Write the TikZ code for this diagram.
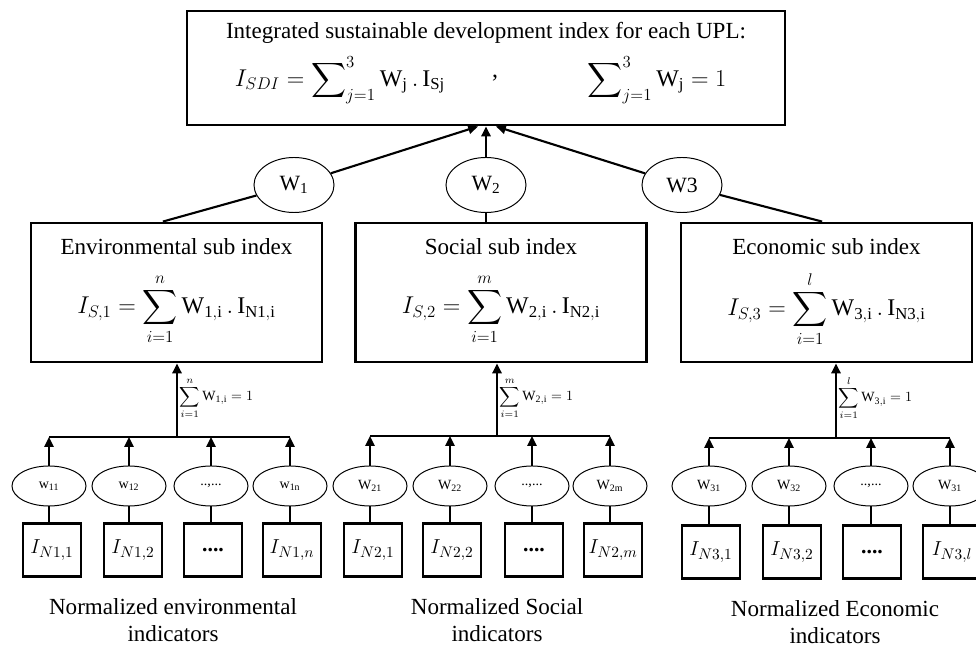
\documentclass[tikz,border=0pt]{standalone}
\usepackage{amsmath}
\usepackage{fontspec}
\setmainfont{Liberation Serif}
\usetikzlibrary{arrows.meta}
\usetikzlibrary{shapes.geometric}

\begin{document}
\begin{tikzpicture}[x=0.025cm,y=-0.025cm,
	bigbox/.style={draw,line width=2pt,minimum width=7.275cm,minimum height=3.475cm,inner sep=0pt},
	wnode/.style={draw,ellipse,line width=0.7pt,minimum width=2cm,minimum height=1.375cm,inner sep=0pt,font=\fontsize{15.5}{18}\selectfont},
	wsmall/.style={draw,ellipse,line width=0.7pt,minimum width=1.85cm,minimum height=1cm,inner sep=0pt,font=\fontsize{10}{11}\selectfont},
	ind/.style={draw,line width=2pt,minimum width=1.45cm,minimum height=1.325cm,inner sep=0pt,font=\fontsize{15.5}{18}\selectfont},
	txt/.style={font=\fontsize{16.4}{19}\selectfont,align=center},
	formula/.style={font=\fontsize{17}{20}\selectfont},
	sumw/.style={font=\fontsize{10}{12}\selectfont,anchor=west,inner sep=1pt},
	link/.style={line width=1.5pt},
	arr/.style={line width=1.5pt,-{Triangle[length=7pt,width=6.5pt]}}]
	\useasboundingbox (0,0) rectangle (976,648);

	% top index
	\node[draw,line width=2pt,minimum width=14.95cm,minimum height=2.85cm,inner sep=0pt] (top) at (486,68) {};
	\node[txt] (toptitle) at (486,33) {Integrated sustainable development index for each UPL:};
	\node[formula] (topsum) at (340,80) {$I_{SDI} = \displaystyle\sum\nolimits_{j=1}^{3}\mathrm{W_j} \,.\, \mathrm{I_{Sj}}$};
	\node[formula] (comma) at (495,78) {,};
	\node[formula] (topone) at (657,80) {$\displaystyle\sum\nolimits_{j=1}^{3}\mathrm{W_j} = 1$};

	% weights of the sub indices
	\node[wnode] (W1) at (294,185) {W\textsubscript{1}};
	\node[wnode] (W2) at (486,185) {W\textsubscript{2}};
	\node[wnode] (W3) at (682,185) {W3};

	% sub indices
	\node[bigbox] (env) at (176.5,292.5) {};
	\node[bigbox] (soc) at (501,292.5) {};
	\node[bigbox] (eco) at (826.5,292.5) {};
	\node[txt] (envt) at (176.5,247) {Environmental sub index};
	\node[txt] (soct) at (501,247) {Social sub index};
	\node[txt] (ecot) at (826.5,247) {Economic sub index};
	\node[formula] (envf) at (176.5,309) {$\displaystyle I_{S,1} = \sum_{i=1}^{n}\mathrm{W_{1,i}} \,.\, \mathrm{I_{N1,i}}$};
	\node[formula] (socf) at (501,309) {$\displaystyle I_{S,2} = \sum_{i=1}^{m}\mathrm{W_{2,i}} \,.\, \mathrm{I_{N2,i}}$};
	\node[formula] (ecof) at (826.5,309) {$\displaystyle I_{S,3} = \sum_{i=1}^{l}\mathrm{W_{3,i}} \,.\, \mathrm{I_{N3,i}}$};

	\draw [link] ([xshift=-0.34cm]env.north) -- (W1);
	\draw [arr] (W1) -- ([xshift=-0.2cm]top.south);
	\draw [link] (W2.south) -- (W2.south |- soc.north);
	\draw [arr] (W2.north) -- (W2.north |- top.south);
	\draw [link] ([xshift=-0.11cm]eco.north) -- (W3);
	\draw [arr] (W3) -- ([xshift=0.25cm]top.south);

	% environmental indicators
	\node[wsmall] (e1) at (49,486) {w\textsubscript{11}};
	\node[wsmall] (e2) at (129,486) {w\textsubscript{12}};
	\node[wsmall] (e3) at (211,486) {..,...};
	\node[wsmall] (e4) at (290,486) {w\textsubscript{1n}};
	\node[ind] (ie1) at (52,550) {$I_{N1,1}$};
	\node[ind] (ie2) at (133,550) {$I_{N1,2}$};
	\node[ind] (ie3) at (213,550) {\textbf{....}};
	\node[ind] (ie4) at (292,550) {$I_{N1,n}$};
	\node[txt] (envcap) at (173,620) {Normalized environmental\\indicators};

	% social indicators
	\node[wsmall] (s1) at (370,486) {W\textsubscript{21}};
	\node[wsmall] (s2) at (450,486) {W\textsubscript{22}};
	\node[wsmall] (s3) at (532,486) {..,...};
	\node[wsmall] (s4) at (610,486) {W\textsubscript{2m}};
	\node[ind] (is1) at (373,550) {$I_{N2,1}$};
	\node[ind] (is2) at (452,550) {$I_{N2,2}$};
	\node[ind] (is3) at (534,550) {\textbf{....}};
	\node[ind] (is4) at (613,550) {$I_{N2,m}$};
	\node[txt] (soccap) at (497,620) {Normalized Social\\indicators};

	% economic indicators
	\node[wsmall] (c1) at (709,486) {W\textsubscript{31}};
	\node[wsmall] (c2) at (789,486) {W\textsubscript{32}};
	\node[wsmall] (c3) at (871,486) {..,...};
	\node[wsmall] (c4) at (950,486) {W\textsubscript{31}};
	\node[ind] (ic1) at (711,552) {$I_{N3,1}$};
	\node[ind] (ic2) at (792,552) {$I_{N3,2}$};
	\node[ind] (ic3) at (872,552) {\textbf{....}};
	\node[ind] (ic4) at (952,552) {$I_{N3,l}$};
	\node[txt] (ecocap) at (835,622) {Normalized Economic\\indicators};

	% bars collecting the indicator weights
	\coordinate (be) at (177,437);
	\coordinate (bs) at (497,436);
	\coordinate (bc) at (836,438);
	\draw [link] (e1 |- be) -- (e4 |- be);
	\draw [link] (s1 |- bs) -- (s4 |- bs);
	\draw [link] (c1 |- bc) -- (c4 |- bc);
	\draw [arr] (be) -- (be |- env.south);
	\draw [arr] (bs) -- (bs |- soc.south);
	\draw [arr] (bc) -- (bc |- eco.south);
	\node[sumw] (envw) at (178,398) {$\displaystyle\sum_{i=1}^{n}\mathrm{W_{1,i}} = 1$};
	\node[sumw] (socw) at (498,398) {$\displaystyle\sum_{i=1}^{m}\mathrm{W_{2,i}} = 1$};
	\node[sumw] (ecow) at (837,398) {$\displaystyle\sum_{i=1}^{l}\mathrm{W_{3,i}} = 1$};

	\draw [arr] (e1.north) -- (e1 |- be);
	\draw [arr] (e2.north) -- (e2 |- be);
	\draw [arr] (e3.north) -- (e3 |- be);
	\draw [arr] (e4.north) -- (e4 |- be);
	\draw [arr] (s1.north) -- (s1 |- bs);
	\draw [arr] (s2.north) -- (s2 |- bs);
	\draw [arr] (s3.north) -- (s3 |- bs);
	\draw [arr] (s4.north) -- (s4 |- bs);
	\draw [arr] (c1.north) -- (c1 |- bc);
	\draw [arr] (c2.north) -- (c2 |- bc);
	\draw [arr] (c3.north) -- (c3 |- bc);
	\draw [arr] (c4.north) -- (c4 |- bc);

	\draw [link] (e1.south) -- (e1.south |- ie1.north);
	\draw [link] (e2.south) -- (e2.south |- ie2.north);
	\draw [link] (e3.south) -- (e3.south |- ie3.north);
	\draw [link] (e4.south) -- (e4.south |- ie4.north);
	\draw [link] (s1.south) -- (s1.south |- is1.north);
	\draw [link] (s2.south) -- (s2.south |- is2.north);
	\draw [link] (s3.south) -- (s3.south |- is3.north);
	\draw [link] (s4.south) -- (s4.south |- is4.north);
	\draw [link] (c1.south) -- (c1.south |- ic1.north);
	\draw [link] (c2.south) -- (c2.south |- ic2.north);
	\draw [link] (c3.south) -- (c3.south |- ic3.north);
	\draw [link] (c4.south) -- (c4.south |- ic4.north);
\end{tikzpicture}
\end{document}
